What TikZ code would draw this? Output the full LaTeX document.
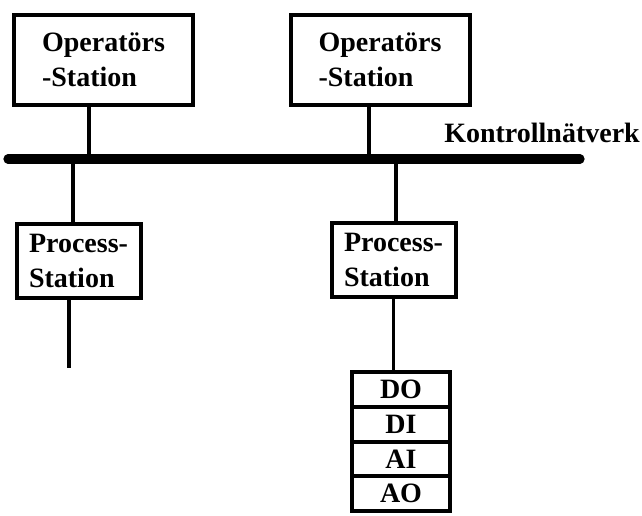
\documentclass[tikz,border=0pt]{standalone}
\usepackage{fontspec}
\setmainfont{Liberation Serif}
\usetikzlibrary{positioning}

\begin{document}
\begin{tikzpicture}[
		x=0.5pt,y=-0.5pt,
		node distance=-2pt,
		every node/.style={
			font=\bfseries\fontsize{14}{17.5}\selectfont,
			align=left
		},
		opbox/.style={draw,line width=2pt,minimum width=89.5pt,minimum height=45pt},
		psbox/.style={draw,line width=2pt,minimum width=62pt,minimum height=37pt},
		iobox/.style={draw,line width=2pt,minimum width=49pt,minimum height=17.4pt,inner sep=0pt},
		link/.style={line width=1.8pt}
		]
		
		\useasboundingbox (0,0) rectangle (642,515);
		
		\node[opbox]
		(op1) at (103.5,60)
		{Operatörs\\-Station};
		
		\node[opbox]
		(op2) at (380,60)
		{Operatörs\\-Station};
		
		\node[psbox]
		(ps1) at (78.5,261)
		{Process-\\Station};
		
		\node[psbox]
		(ps2) at (393.5,259.5)
		{Process-\\Station};
		
		\node[iobox]
		(do) at (401,389.4)
		{DO};
		
		\node[iobox,below=of do]
		(di)
		{DI};
		
		\node[iobox,below=of di]
		(ai)
		{AI};
		
		\node[iobox,below=of ai]
		(ao)
		{AO};
		
		\node
		(net) at (542,133)
		{Kontrollnätverk};
		
		\coordinate (busl) at (8,159);
		\coordinate (busr) at (580,159);
		\coordinate (ps1end) at (69,368);
		
		\draw[line width=4.6pt,line cap=round] (busl)--(busr);
		\draw[link] ([xshift=-7.25pt]op1.south)--([xshift=-7.25pt]op1.south |- busl);
		\draw[link] ([xshift=-5.5pt]op2.south)--([xshift=-5.5pt]op2.south |- busl);
		\draw[link] ([xshift=-2.75pt]ps1.north |- busl)--([xshift=-2.75pt]ps1.north);
		\draw[link] ([xshift=1.25pt]ps2.north |- busl)--([xshift=1.25pt]ps2.north);
		\draw[link] (ps1.south -| ps1end)--(ps1end);
		\draw[link] (ps2.south)--(ps2.south |- do.north);
		
	\end{tikzpicture}
\end{document}
